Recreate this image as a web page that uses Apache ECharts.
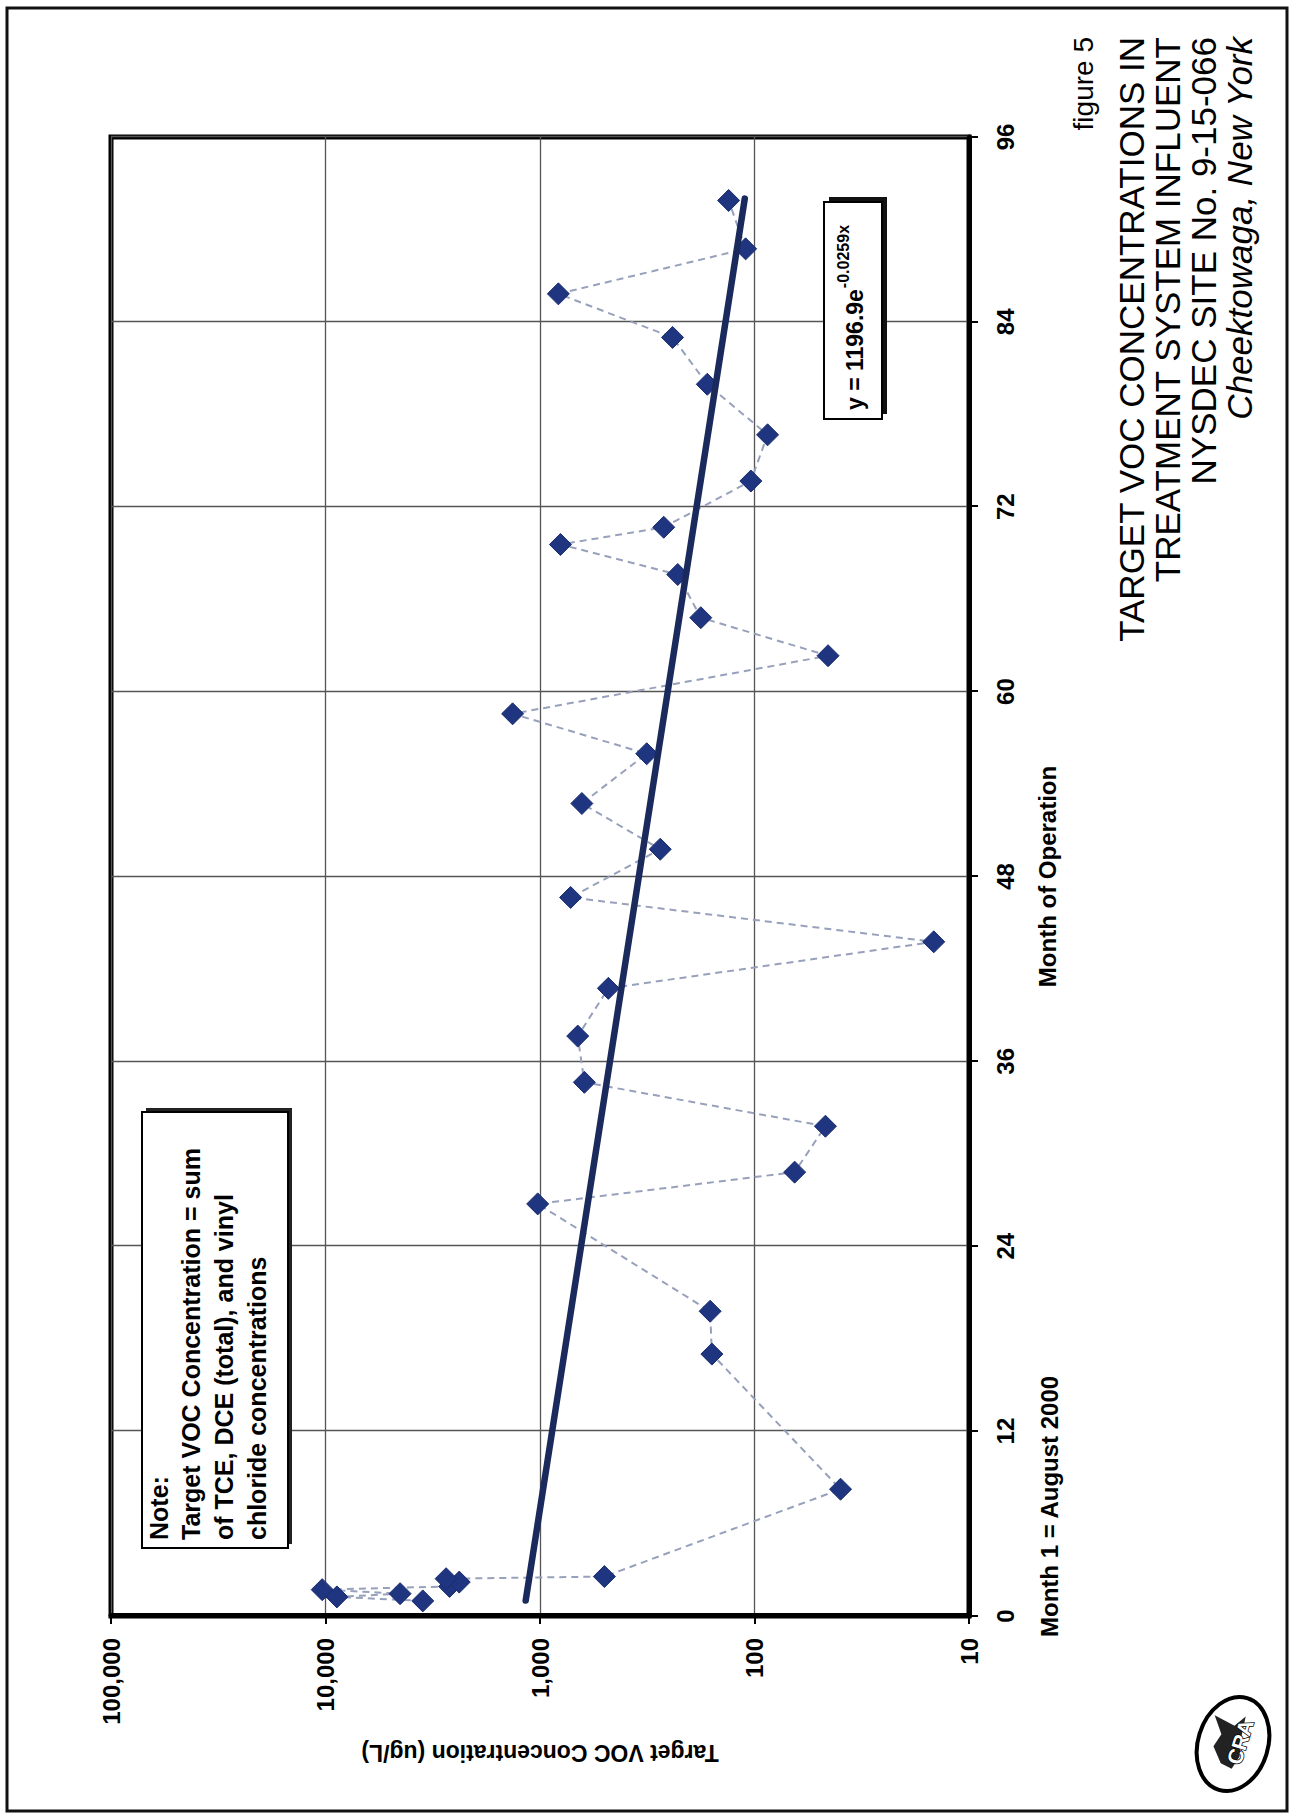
<!DOCTYPE html>
<html>
<head>
<meta charset="utf-8">
<script src="https://cdn.jsdelivr.net/npm/echarts@6/dist/echarts.min.js"></script>
<style>
html,body{margin:0;padding:0;background:#fff;overflow:hidden;width:1290px;height:1813px}
#wrap{position:absolute;left:0;top:0;width:1813px;height:1290px;transform-origin:0 0;transform:translate(0,1813px) rotate(-90deg);background:#fff}
#chart{width:1813px;height:1290px}
</style>
</head>
<body>
<div id="wrap"><div id="chart"></div></div>
<script>
// ---- data ----
const months = [0.98, 1.24, 1.45, 1.71, 1.92, 2.20, 2.42, 2.56, 8.23, 17.0, 19.78, 26.75, 28.81, 31.79, 34.64, 37.64, 40.74, 43.76, 46.64, 49.77, 52.74, 55.97, 58.56, 62.33, 64.8, 67.6, 69.55, 70.67, 73.67, 76.67, 79.95, 82.99, 85.82, 88.74, 91.88];
const vocConc = [3520, 8850, 4490, 10360, 2640, 2380, 2740, 501, 39.7, 158, 161, 1025, 65, 46.7, 621, 667, 480, 14.6, 720, 275, 638, 318, 1342, 45.4, 178, 228, 803, 265, 104, 86.9, 166, 241, 821, 110, 132];
const trendMonths = [1, 92];
const trendConc = [1166, 111];
const trendLabelMain = 'y = 1196.9e';
const trendLabelExp = '-0.0259x';
const monthTicks = [0, 12, 24, 36, 48, 60, 72, 84, 96];
const concTicks = [10, 100, 1000, 10000, 100000];
const concTickLabels = ['10', '100', '1,000', '10,000', '100,000'];
const xAxisTitle = 'Month of Operation';
const xAxisNote = 'Month 1 = August 2000';
const yAxisTitle = 'Target VOC Concentration (ug/L)';
const noteLines = ['Note:', 'Target VOC Concentration = sum', 'of TCE, DCE (total), and vinyl', 'chloride concentrations'];
const figureLabel = 'figure 5';
const titleLines = ['TARGET VOC CONCENTRATIONS IN', 'TREATMENT SYSTEM INFLUENT', 'NYSDEC SITE No. 9-15-066', 'Cheektowaga, New York'];
const logoText = 'CRA';

const FF = '"Liberation Sans", Arial, Helvetica, sans-serif';
function textWidth(t, font) {
  const c = document.createElement('canvas').getContext('2d');
  c.font = font;
  return c.measureText(t).width;
}

const chart = echarts.init(document.getElementById('chart'), null, {renderer: 'svg', width: 1813, height: 1290});

const G = {left: 197, right: 137, top: 111, bottom: 321};

const graphics = [];
// page border
graphics.push({type: 'rect', shape: {x: 2, y: 7, width: 1803, height: 1280}, style: {fill: 'none', stroke: '#111', lineWidth: 3}, z: 0});
// note box
graphics.push({type: 'rect', shape: {x: 269, y: 146, width: 436, height: 146}, style: {fill: '#222', stroke: 'none'}, z: 10});
graphics.push({type: 'rect', shape: {x: 265, y: 142, width: 436, height: 146}, style: {fill: '#fff', stroke: '#000', lineWidth: 2}, z: 11});
const noteBase = [167, 199, 232, 265];
noteLines.forEach((t, i) => {
  graphics.push({type: 'text', x: 273, y: noteBase[i] - 8, z: 12,
    style: {text: t, font: 'bold 25px ' + FF, fill: '#000', align: 'left', verticalAlign: 'middle'}});
});
// trend equation box
graphics.push({type: 'rect', shape: {x: 1399, y: 829, width: 217, height: 58}, style: {fill: '#111', stroke: 'none'}, z: 10});
graphics.push({type: 'rect', shape: {x: 1394, y: 824, width: 217, height: 58}, style: {fill: '#fff', stroke: '#000', lineWidth: 2}, z: 11});
const eqFont = 'bold 23px ' + FF;
const eqW = textWidth(trendLabelMain, eqFont);
graphics.push({type: 'text', x: 1403, y: 855, z: 12, style: {text: trendLabelMain, font: eqFont, fill: '#000', align: 'left', verticalAlign: 'middle'}});
graphics.push({type: 'text', x: 1403 + eqW + 1, y: 843, z: 12, style: {text: trendLabelExp, font: 'bold 16px ' + FF, fill: '#000', align: 'left', verticalAlign: 'middle'}});
// x axis note
graphics.push({type: 'text', x: 176, y: 1049, z: 5, style: {text: xAxisNote, font: 'bold 24px ' + FF, fill: '#000', align: 'left', verticalAlign: 'middle'}});
// title block
graphics.push({type: 'text', x: 1776, y: 1083, z: 5, style: {text: figureLabel, font: '28px ' + FF, fill: '#000', align: 'right', verticalAlign: 'middle'}});
const titleMid = [1131, 1167, 1203, 1239];
titleLines.forEach((t, i) => {
  const italic = i === titleLines.length - 1 ? 'italic ' : '';
  graphics.push({type: 'text', x: 1776, y: titleMid[i], z: 5,
    style: {text: t, font: italic + '35px ' + FF, fill: '#000', align: 'right', verticalAlign: 'middle'}});
});
// logo (ellipse, bird silhouette, letters)
graphics.push({type: 'ellipse', shape: {cx: 0, cy: 0, rx: 48, ry: 35}, x: 69, y: 1233, rotation: -0.3,
  style: {fill: '#fff', stroke: '#000', lineWidth: 4}, z: 5});
graphics.push({type: 'polygon', x: 69, y: 1233, rotation: -0.3,
  shape: {points: [[-22, -6], [-8, -18], [6, -14], [22, -26], [18, -4], [30, 4], [8, 6], [-10, 10], [-24, 6]]},
  style: {fill: '#222'}, z: 6});
graphics.push({type: 'text', x: 71, y: 1240, rotation: -0.3, z: 7,
  style: {text: logoText, font: 'bold 21px ' + FF, fill: '#fff', stroke: '#000', lineWidth: 1.5, align: 'center', verticalAlign: 'middle'}});

const option = {
  animation: false,
  backgroundColor: '#fff',
  grid: Object.assign({show: true, borderColor: '#000', borderWidth: 5, backgroundColor: 'transparent', containLabel: false, outerBoundsMode: 'none'}, G),
  xAxis: {
    type: 'value', min: monthTicks[0], max: monthTicks[monthTicks.length - 1], interval: 12,
    name: xAxisTitle, nameLocation: 'middle', nameGap: 66,
    nameTextStyle: {fontFamily: FF, fontWeight: 'bold', fontSize: 24, color: '#000'},
    axisLine: {show: true, lineStyle: {color: '#000', width: 5}},
    axisTick: {show: true, inside: false, length: 9, lineStyle: {color: '#000', width: 2}},
    axisLabel: {show: true, margin: 24, fontFamily: FF, fontWeight: 'bold', fontSize: 24, color: '#000',
      formatter: v => monthTicks.indexOf(v) >= 0 ? String(v) : ''},
    splitLine: {show: true, lineStyle: {color: '#555', width: 1.3}}
  },
  yAxis: {
    type: 'log', logBase: 10, min: concTicks[0], max: concTicks[concTicks.length - 1],
    name: yAxisTitle, nameLocation: 'middle', nameGap: 125,
    nameTextStyle: {fontFamily: FF, fontWeight: 'bold', fontSize: 23, color: '#000'},
    axisLine: {show: true, lineStyle: {color: '#000', width: 5}},
    axisTick: {show: true, inside: false, length: 8, lineStyle: {color: '#000', width: 2}},
    axisLabel: {show: true, margin: 22, fontFamily: FF, fontWeight: 'bold', fontSize: 24, color: '#000',
      formatter: v => { const i = Math.round(Math.log10(v)) - 1; return concTickLabels[i] || ''; }},
    splitLine: {show: true, lineStyle: {color: '#555', width: 1.3}},
    minorSplitLine: {show: false}
  },
  series: [
    {
      name: 'Target VOC Concentration', type: 'line', z: 3,
      data: months.map((m, i) => [m, vocConc[i]]),
      symbol: 'diamond', symbolSize: 22, showAllSymbol: true,
      itemStyle: {color: '#1f3580', borderColor: '#1a2d70', borderWidth: 1},
      lineStyle: {type: [7, 5], color: '#98a1bb', width: 2},
      emphasis: {disabled: true}
    },
    {
      name: 'Trend', type: 'line', z: 4,
      data: trendMonths.map((m, i) => [m, trendConc[i]]),
      showSymbol: false, symbol: 'none',
      lineStyle: {color: '#1b2a5c', width: 6.5, cap: 'round'},
      emphasis: {disabled: true}
    }
  ],
  graphic: graphics
};
chart.setOption(option);
</script>
</body>
</html>
